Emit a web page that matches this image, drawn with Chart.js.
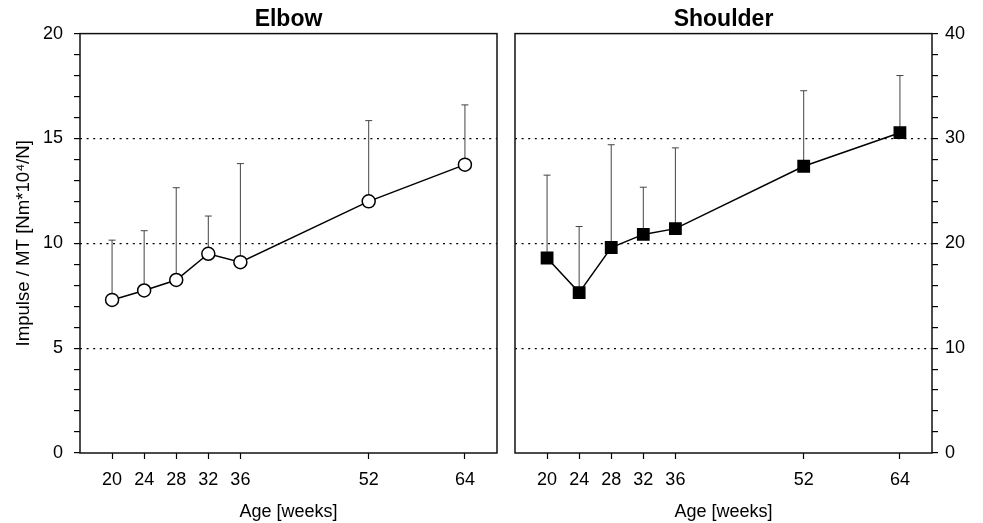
<!DOCTYPE html>
<html>
<head>
<meta charset="utf-8">
<script src="https://cdn.jsdelivr.net/npm/chart.js@4"></script>
<style>
  html, body { margin: 0; padding: 0; background: #fff; }
  #wrap { position: relative; width: 983px; height: 523px; }
  .panel { position: absolute; top: 0; }
</style>
</head>
<body>
<div id="wrap">
  <div class="panel" style="left:0px;"><canvas id="elbowChart" width="505" height="523"></canvas></div>
  <div class="panel" style="left:505px;"><canvas id="shoulderChart" width="478" height="523"></canvas></div>
</div>
<script>
// data
const ages = [20, 24, 28, 32, 36, 52, 64];
const ageTicks = [20, 24, 28, 32, 36, 52, 64];

const elbowMean = [7.3, 7.75, 8.25, 9.5, 9.1, 12.0, 13.75];
const elbowSD = [2.85, 2.85, 4.4, 1.8, 4.7, 3.85, 2.85];

const shoulderMean = [18.6, 15.3, 19.6, 20.85, 21.4, 27.35, 30.55];
const shoulderSD = [7.9, 6.3, 9.8, 4.5, 7.7, 7.2, 5.45];

const FONT = '"Liberation Sans", Arial, Helvetica, sans-serif';

// draws upward error bars (mean -> mean + sd) under the points
const errorBars = {
    id: 'errorBars',
    beforeDatasetsDraw(chart, args, opts) {
        const ctx = chart.ctx;
        const xs = chart.scales.x, ys = chart.scales.y;
        const ds = chart.data.datasets[0];
        ctx.save();
        ctx.strokeStyle = '#444';
        ctx.lineWidth = 1;
        ds.data.forEach((p, i) => {
            const x = xs.getPixelForValue(p.x);
            const y0 = ys.getPixelForValue(p.y);
            const y1 = ys.getPixelForValue(p.y + opts.sd[i]);
            ctx.beginPath();
            ctx.moveTo(x, y0);
            ctx.lineTo(x, y1);
            ctx.moveTo(x - 3.5, y1);
            ctx.lineTo(x + 3.5, y1);
            ctx.stroke();
        });
        ctx.restore();
    }
};

// box round the plot area
const frame = {
    id: 'frame',
    afterDraw(chart) {
        const a = chart.chartArea;
        const ctx = chart.ctx;
        ctx.save();
        ctx.strokeStyle = '#111';
        ctx.lineWidth = 1.5;
        ctx.strokeRect(a.left, a.top, a.right - a.left, a.bottom - a.top);
        ctx.restore();
    }
};

function makeChart(id, opt) {
    const points = ages.map((a, i) => ({ x: a, y: opt.mean[i] }));
    const major = opt.major;
    return new Chart(document.getElementById(id), {
        type: 'line',
        data: {
            datasets: [{
                data: points,
                borderColor: '#000',
                borderWidth: 1.5,
                pointStyle: opt.pointStyle,
                pointRadius: opt.pointRadius,
                pointBackgroundColor: opt.pointFill,
                pointBorderColor: '#000',
                pointBorderWidth: 1.5,
                tension: 0
            }]
        },
        options: {
            responsive: false,
            animation: false,
            devicePixelRatio: 1,
            layout: { padding: opt.padding },
            plugins: {
                legend: { display: false },
                tooltip: { enabled: false },
                title: {
                    display: true,
                    text: opt.title,
                    fullSize: false,
                    color: '#000',
                    font: { family: FONT, size: 23, weight: 'bold' },
                    padding: { top: 6, bottom: 0 }
                },
                errorBars: { sd: opt.sd }
            },
            scales: {
                x: {
                    type: 'linear',
                    min: 16,
                    max: 68,
                    afterBuildTicks: s => { s.ticks = ageTicks.map(v => ({ value: v })); },
                    afterFit: s => { s.height = 70; },
                    grid: { drawOnChartArea: false, tickLength: 6, tickWidth: 1.2, tickColor: '#000' },
                    border: { display: false },
                    ticks: { color: '#000', padding: 10, autoSkip: false, maxRotation: 0, font: { family: FONT, size: 18 } },
                    title: {
                        display: true,
                        text: 'Age [weeks]',
                        color: '#000',
                        font: { family: FONT, size: 18 },
                        padding: { top: 0, bottom: 0 }
                    }
                },
                y: {
                    position: opt.yPos,
                    min: 0,
                    max: opt.yMax,
                    afterFit: s => { s.width = opt.yWidth; },
                    grid: {
                        color: c => (c.tick && c.tick.value % major === 0 && c.tick.value > 0 && c.tick.value < opt.yMax) ? '#000' : 'rgba(0,0,0,0)',
                        lineWidth: 1.2,
                        tickLength: 6,
                        tickWidth: 1.2,
                        tickColor: '#000'
                    },
                    border: { display: false, dash: [2, 4.6] },
                    ticks: {
                        stepSize: opt.minor,
                        color: '#000',
                        padding: opt.yPad,
                        autoSkip: false,
                        font: { family: FONT, size: 18 },
                        callback: v => (v % major === 0 ? String(v) : '')
                    },
                    title: {
                        display: opt.yTitle !== '',
                        text: opt.yTitle,
                        color: '#000',
                        font: { family: FONT, size: 18.6 },
                        padding: { top: 13, bottom: 0 }
                    }
                }
            }
        },
        plugins: [errorBars, frame]
    });
}

makeChart('elbowChart', {
    title: 'Elbow',
    mean: elbowMean,
    sd: elbowSD,
    pointStyle: 'circle',
    pointRadius: 6.5,
    pointFill: '#fff',
    yPos: 'left',
    yMax: 20,
    major: 5,
    minor: 1,
    yWidth: 80,
    yPad: 11,
    yTitle: 'Impulse / MT [Nm*10\u2074/N]',
    padding: { left: 0, right: 8, top: 0, bottom: 0 }
});

makeChart('shoulderChart', {
    title: 'Shoulder',
    mean: shoulderMean,
    sd: shoulderSD,
    pointStyle: 'rect',
    pointRadius: 8,
    pointFill: '#000',
    yPos: 'right',
    yMax: 40,
    major: 10,
    minor: 2,
    yWidth: 51,
    yPad: 7,
    yTitle: '',
    padding: { left: 10, right: 0, top: 0, bottom: 0 }
});
</script>
</body>
</html>
